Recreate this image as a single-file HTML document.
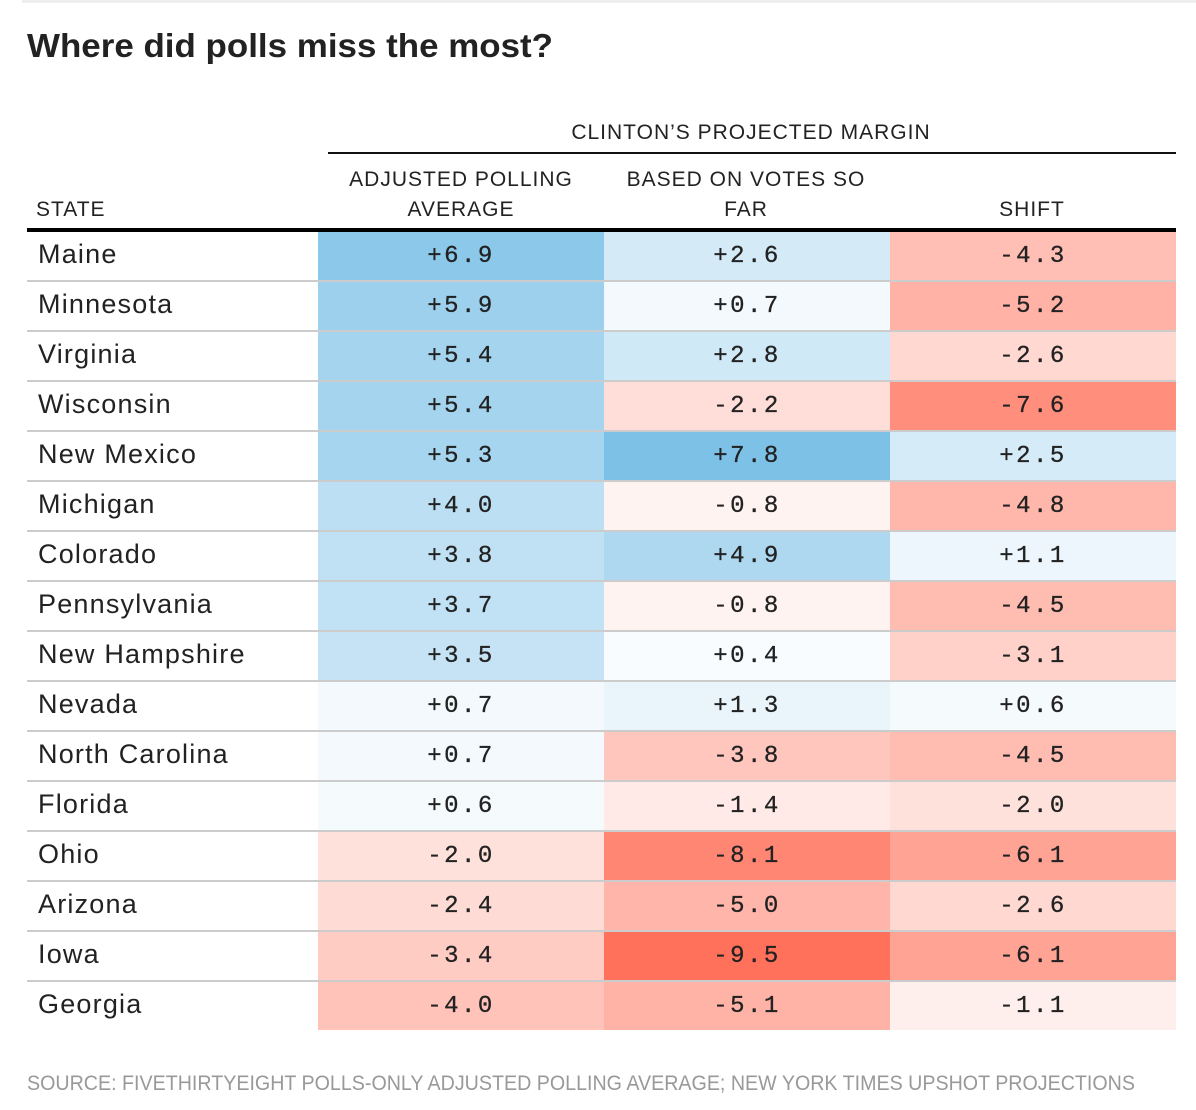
<!DOCTYPE html>
<html><head><meta charset="utf-8"><style>
body{margin:0;background:#fff;}
svg{display:block;font-family:"Liberation Sans",sans-serif;}
</style></head><body>
<svg id="chart" width="1196" height="1110" viewBox="0 0 1196 1110">
<rect x="22" y="0" width="1174" height="3" fill="#eeeeee"/>
<text x="27" y="57" font-size="33" font-weight="bold" fill="#222" textLength="526" lengthAdjust="spacingAndGlyphs">Where did polls miss the most?</text>
<text x="751" y="139" font-size="21" letter-spacing="1" fill="#222" text-anchor="middle">CLINTON’S PROJECTED MARGIN</text>
<rect x="328" y="152" width="848" height="2" fill="#111"/>
<text x="36" y="216" font-size="21" letter-spacing="1" fill="#222">STATE</text>
<text x="461" y="186" font-size="21" letter-spacing="1" fill="#222" text-anchor="middle">ADJUSTED POLLING</text>
<text x="461" y="216" font-size="21" letter-spacing="1" fill="#222" text-anchor="middle">AVERAGE</text>
<text x="746" y="186" font-size="21" letter-spacing="1" fill="#222" text-anchor="middle">BASED ON VOTES SO</text>
<text x="746" y="216" font-size="21" letter-spacing="1" fill="#222" text-anchor="middle">FAR</text>
<text x="1032" y="216" font-size="21" letter-spacing="1" fill="#222" text-anchor="middle">SHIFT</text>
<g id="rows"></g>
<rect x="27" y="228" width="1149" height="4" fill="#000"/>
<text x="27" y="1090" font-size="21" fill="#999" textLength="1108" lengthAdjust="spacingAndGlyphs">SOURCE: FIVETHIRTYEIGHT POLLS-ONLY ADJUSTED POLLING AVERAGE; NEW YORK TIMES UPSHOT PROJECTIONS</text>
</svg>
<script>
const states = ["Maine","Minnesota","Virginia","Wisconsin","New Mexico","Michigan","Colorado","Pennsylvania","New Hampshire","Nevada","North Carolina","Florida","Ohio","Arizona","Iowa","Georgia"];
const polling = [6.9,5.9,5.4,5.4,5.3,4.0,3.8,3.7,3.5,0.7,0.7,0.6,-2.0,-2.4,-3.4,-4.0];
const votes = [2.6,0.7,2.8,-2.2,7.8,-0.8,4.9,-0.8,0.4,1.3,-3.8,-1.4,-8.1,-5.0,-9.5,-5.1];
const shift = [-4.3,-5.2,-2.6,-7.6,2.5,-4.8,1.1,-4.5,-3.1,0.6,-4.5,-2.0,-6.1,-2.6,-6.1,-1.1];

const NS = "http://www.w3.org/2000/svg";
const g = document.getElementById("rows");
const rowTop = 232, rowH = 50;
const colX = [318, 604, 890], colW = 286;
function rowY(i){ return rowTop + i * rowH; }
function color(v){
  const t = Math.min(Math.abs(v) / 10, 1);
  const full = v >= 0 ? [88,176,224] : [255,106,82];
  const c = full.map(f => Math.round(255 - (255 - f) * t));
  return "rgb(" + c.join(",") + ")";
}
function fmt(v){ return (v >= 0 ? "+" : "-") + Math.abs(v).toFixed(1); }
function el(tag, attrs){ const e = document.createElementNS(NS, tag); for (const k in attrs) e.setAttribute(k, attrs[k]); g.appendChild(e); return e; }

const series = [polling, votes, shift];
const names = ["polling", "votes", "shift"];
states.forEach((s, i) => {
  const y = rowY(i);
  series.forEach((arr, j) => {
    const r = el("rect", {x: colX[j], y: y, width: colW, height: rowH - 2, fill: color(arr[i])});
    
    
    const t = el("text", {x: colX[j] + colW / 2, y: y + 30, "font-size": 24, "font-family": "Liberation Mono, monospace", "letter-spacing": 2.5, "text-anchor": "middle", fill: "#222", stroke: "#222", "stroke-width": 0.3});
    t.textContent = fmt(arr[i]);
    
    
  });
  if (i < states.length - 1) {
    const l = el("rect", {x: 27, y: y + rowH - 2, width: 1149, height: 2, fill: "#cccccc"});
    
    
  }
  const st = el("text", {x: 38, y: y + 31, "font-size": 27, "letter-spacing": 1.2, fill: "#222"});
  st.textContent = s;
  
  
});
</script>
</body></html>
